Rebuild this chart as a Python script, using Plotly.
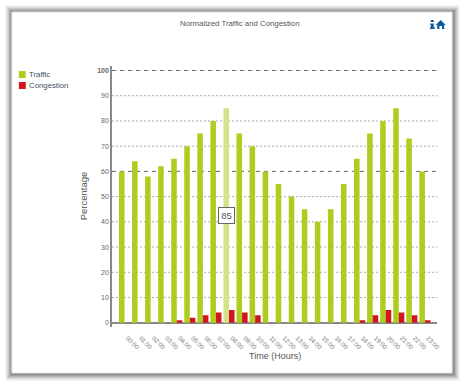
import plotly.graph_objects as go

hours = ["00:00","01:00","02:00","03:00","04:00","05:00","06:00","07:00","08:00","09:00","10:00","11:00",
         "12:00","13:00","14:00","15:00","16:00","17:00","18:00","19:00","20:00","21:00","22:00","23:00"]
traffic = [60,64,58,62,65,70,75,80,85,75,70,60,55,50,45,40,45,55,65,75,80,85,73,60]
congestion = [0,0,0,0,1,2,3,4,5,4,3,0,0,0,0,0,0,0,1,3,5,4,3,1]
y_ticks = [0,10,20,30,40,50,60,70,80,90,100]
y_labels = ["0","10","20","30","40","50","60","70","80","90","<b>100</b>"]
strong_grid = [60, 100]
highlight = "08:00"
title = "Normalized Traffic and Congestion"
GREEN, RED, PALE = "#afcd1e", "#d2161e", "#d3e388"
W, H = 468, 384
px = lambda v: v / W
py = lambda v: 1 - v / H
positions = list(range(len(hours)))

fig = go.Figure()
fig.add_bar(name="Traffic", x=positions, y=traffic,
            marker=dict(color=[PALE if h == highlight else GREEN for h in hours], line_width=0))
fig.add_bar(name="Congestion", x=positions, y=congestion, marker=dict(color=RED, line_width=0))

shapes = []
# soft drop shadow behind the white panel, weighted to the right and bottom
for grow, op in [(7,.05),(6,.08),(5,.11),(4,.14),(3,.18),(2,.22),(1,.26)]:
    shapes.append(dict(type="rect", xref="paper", yref="paper", layer="below",
                       x0=px(12-grow), x1=px(456+grow+1), y0=py(12-grow), y1=py(373+grow+1),
                       fillcolor=f"rgba(90,90,90,{op})", line_width=0))
shapes.append(dict(type="rect", xref="paper", yref="paper", layer="below",
                   x0=px(12), x1=px(456), y0=py(12), y1=py(373), fillcolor="white",
                   line=dict(color="#e4e4e4", width=1)))
# horizontal grid: darker dashes at the strong levels, light dashes elsewhere
for v in y_ticks[1:]:
    strong = v in strong_grid
    shapes.append(dict(type="line", xref="x domain", yref="y", layer="below", x0=0, x1=1, y0=v, y1=v,
                       line=dict(color="#666666" if strong else "#aaaaaa", width=1,
                                 dash="4px,4px" if strong else "2px,2px")))
# legend swatches
for top, c in [(71, GREEN), (82, RED)]:
    shapes.append(dict(type="rect", xref="paper", yref="paper", x0=px(19), x1=px(26), y0=py(top), y1=py(top+7),
                       fillcolor=c, line_width=0))
# info + home icons
BLUE = "#0b5a9e"
def path(points):
    return "M " + " L ".join(f"{px(a):.5f},{py(b):.5f}" for a, b in points) + " Z"
for pts in ([(434.5,20),(437.5,20),(437.5,22),(434.5,22)],
            [(434,23.5),(437.5,23.5),(437.5,27.5),(438.5,27.5),(438.5,29),(433.5,29),(433.5,27.5),(434.5,27.5),(434.5,25),(434,25)],
            [(444.5,20),(449.5,25),(448,25),(448,29),(445.8,29),(445.8,26),(443.2,26),(443.2,29),(441,29),(441,25),(439.5,25)]):
    shapes.append(dict(type="path", xref="paper", yref="paper", path=path(pts), fillcolor=BLUE, line_width=0))

annos = [
    dict(x=px(241.5), y=py(23.5), text=title, font=dict(size=7.8, color="#555555")),
    dict(x=px(27.5), y=py(74.5), text="Traffic", xanchor="left", font=dict(size=7.8, color="#44525c")),
    dict(x=px(27.5), y=py(85.5), text="Congestion", xanchor="left", font=dict(size=7.8, color="#44525c")),
    dict(x=px(84), y=py(196), text="Percentage", textangle=-90, font=dict(size=9.5, color="#555555")),
    dict(x=px(277), y=py(356), text="Time (Hours)", font=dict(size=9, color="#555555")),
    dict(x=px(228), y=py(215), text="85", font=dict(size=9.5, color="#555555"), bgcolor="white",
         bordercolor="#666666", borderwidth=1, borderpad=2, width=11),
]
for a in annos:
    a.update(xref="paper", yref="paper", showarrow=False, yanchor="middle")
    a.setdefault("xanchor", "center")

fig.update_layout(
    width=W, height=H, margin=dict(l=0, r=0, t=0, b=0), paper_bgcolor="white", plot_bgcolor="rgba(0,0,0,0)",
    barmode="group", bargap=0.15, bargroupgap=0, showlegend=False, shapes=shapes, annotations=annos,
    font=dict(family="Liberation Sans, Arial, sans-serif"),
    xaxis=dict(domain=[px(113), px(441.2)], range=[-0.957, 23.96], tickvals=positions, ticktext=hours,
               tickangle=45, tickfont=dict(size=6.3, color="#777777"), ticks="outside", ticklen=4,
               tickcolor="rgba(0,0,0,0)", ticklabelshift=3, showgrid=False, zeroline=False, showline=False),
    yaxis=dict(domain=[py(327), py(65.7)], range=[-1.7, 101.9], tickvals=y_ticks, ticktext=y_labels,
               tickfont=dict(size=7, color="#666666"), showgrid=False, zeroline=True, zerolinecolor="#888888",
               zerolinewidth=1.5, showline=True, linecolor="#888888", linewidth=1.5, ticks="", ),
)
fig.write_html("out.html", config=dict(displayModeBar=False),
               post_script="document.body.style.margin='0';document.body.style.overflow='hidden';")
